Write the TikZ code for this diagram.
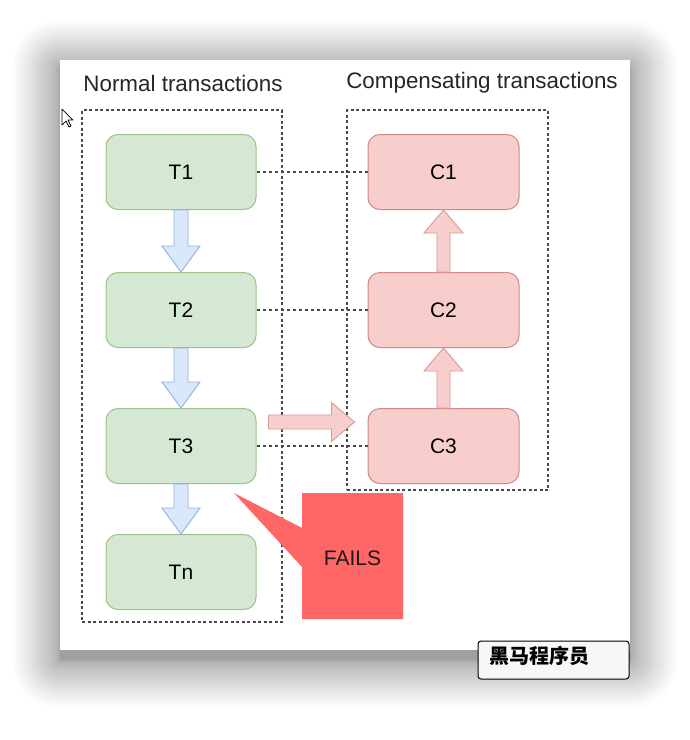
\documentclass[tikz,border=0pt]{standalone}
\usepackage{fontspec}
\setmainfont{Liberation Sans}
\newfontfamily\cjk{Noto Sans CJK SC}
\usetikzlibrary{calc}
\definecolor{tfill}{HTML}{D5E8D4}
\definecolor{tdraw}{HTML}{9CC38A}
\definecolor{cfill}{HTML}{F8CECC}
\definecolor{cdraw}{HTML}{D08A86}
\definecolor{bfill}{HTML}{DAE8FC}
\definecolor{bdraw}{HTML}{94B0D8}
\definecolor{rarrdraw}{HTML}{D99A97}
\definecolor{failfill}{HTML}{FF6666}
\definecolor{dashgray}{HTML}{4A4A4A}
\tikzset{
  tbox/.style={draw=tdraw, fill=tfill, line width=1pt, rounded corners=12pt,
    minimum width=150pt, minimum height=75pt, font=\fontsize{21}{21}\selectfont},
  cbox/.style={draw=cdraw, fill=cfill, line width=1pt, rounded corners=12pt,
    minimum width=151pt, minimum height=75pt, font=\fontsize{21}{21}\selectfont},
  groupbox/.style={draw=dashgray, line width=1.3pt, dash pattern=on 3pt off 2.5pt, inner sep=0pt},
  linkline/.style={draw=dashgray, line width=1.3pt, dash pattern=on 3.5pt off 2.5pt},
  blockarrowblue/.style={fill=bfill, draw=bdraw, line width=0.9pt, line join=miter},
  blockarrowred/.style={fill=cfill, draw=rarrdraw, line width=0.9pt, line join=miter},
  titletext/.style={text=black!85, font=\fontsize{22.4}{23}\selectfont, inner sep=0pt},
}
\begin{document}
\begin{tikzpicture}[x=1pt,y=-1pt]
\useasboundingbox (0,0) rectangle (690,740);
% card shadow
\foreach \i in {1,...,40} {
  \pgfmathsetmacro{\e}{0.03*\i*\i}
  \fill[black, opacity=0.0105, rounded corners=\e pt] (60-\e,68-\e) rectangle (630+\e,660+\e);
}
\fill[white] (60,60) rectangle (630,650);

% titles
\node[titletext] (nt) at (183,83) {Normal transactions};
\node[titletext] (ct) at (482,83) {Compensating transactions};

% groups
\node[groupbox, minimum width=200pt, minimum height=512pt] (g1) at (182,366) {};
\node[groupbox, minimum width=201pt, minimum height=380pt] (g2) at (447.5,300) {};

% boxes
\node[tbox] (t1) at (181,172) {T1};
\node[tbox] (t2) at (181,310) {T2};
\node[tbox] (t3) at (181,446) {T3};
\node[tbox] (tn) at (181,572) {Tn};
\node[cbox] (c1) at (443.5,172) {C1};
\node[cbox] (c2) at (443.5,310) {C2};
\node[cbox] (c3) at (443.5,446) {C3};

% dashed links
\draw[linkline] (t1.east) -- (c1.west);
\draw[linkline] (t2.east) -- (c2.west);
\draw[linkline] (t3.east) -- (c3.west);

% blue down arrows
\foreach \a/\b in {t1/t2, t2/t3, t3/tn} {
  \draw[blockarrowblue] ($(\a.south)+(-7,0)$) -- ($(\b.north)+(-7,-26)$) -- ($(\b.north)+(-19,-26)$)
    -- (\b.north) -- ($(\b.north)+(19,-26)$) -- ($(\b.north)+(7,-26)$) -- ($(\a.south)+(7,0)$) -- cycle;
}
% red up arrows
\foreach \a/\b in {c2/c1, c3/c2} {
  \draw[blockarrowred] ($(\a.north)+(-6.5,0)$) -- ($(\b.south)+(-6.5,23)$) -- ($(\b.south)+(-19.5,23)$)
    -- (\b.south) -- ($(\b.south)+(19.5,23)$) -- ($(\b.south)+(6.5,23)$) -- ($(\a.north)+(6.5,0)$) -- cycle;
}
% horizontal arrow T3 -> C3
\coordinate (hs) at ($(t3.east)+(12,-24)$);
\coordinate (he) at ($(c3.west)+(-13,-24)$);
\draw[blockarrowred] ($(hs)+(0,-7)$) -- ($(he)+(-23,-7)$) -- ($(he)+(-23,-19.5)$) -- (he)
  -- ($(he)+(-23,19.5)$) -- ($(he)+(-23,7)$) -- ($(hs)+(0,7)$) -- cycle;

% FAILS callout
\coordinate (fc) at (352.5,556);
\fill[failfill] ($(fc)+(-50.5,-63)$) -- ($(fc)+(50.5,-63)$) -- ($(fc)+(50.5,63)$) -- ($(fc)+(-50.5,63)$)
  -- ($(fc)+(-50.5,11)$) -- ($(fc)+(-118.5,-63)$) -- ($(fc)+(-50.5,-28)$) -- cycle;
\node[font=\fontsize{21}{21}\selectfont, text=black!90] (fails) at ($(fc)+(0,2)$) {FAILS};

% cursor
\draw[fill=white, line width=0.7pt, line join=round] (62,109) -- ++(0,16) -- ++(4,-4) -- ++(3,6)
  -- ++(2,-1) -- ++(-3,-6) -- ++(5,0) -- cycle;

% watermark
\node[draw=black, line width=1pt, fill=black!3, rounded corners=3pt,
  minimum width=151pt, minimum height=38pt] (wm) at (553.5,660) {};
\node[anchor=west, inner sep=0pt, font=\cjk\bfseries\fontsize{20}{20}\selectfont] (wmt)
  at ($(wm.west)+(12,-4)$) {黑马程序员};
\end{tikzpicture}
\end{document}
